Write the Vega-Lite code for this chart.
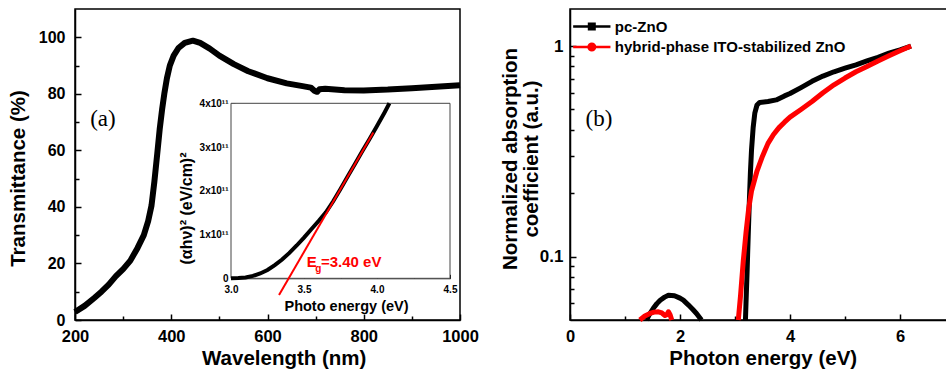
{
  "$schema": "https://vega.github.io/schema/vega-lite/v6.json",
  "width": 946,
  "height": 372,
  "autosize": {"type": "none"},
  "padding": 0,
  "background": "white",
  "config": {
    "view": {"stroke": null},
    "axis": {
      "grid": false,
      "labelFont": "Liberation Sans",
      "labelFontWeight": "bold",
      "labelColor": "black",
      "titleFont": "Liberation Sans",
      "titleFontWeight": "bold",
      "titleColor": "black",
      "domainColor": "black",
      "tickColor": "black",
      "domainWidth": 1.5,
      "tickWidth": 1.5,
      "labelFlush": false,
      "labelOverlap": false
    },
    "legend": {"labelFont": "Liberation Sans", "labelFontWeight": "bold", "labelColor": "black"}
  },
  "resolve": {
    "scale": {"x": "independent", "y": "independent", "color": "independent"},
    "axis": {"x": "independent", "y": "independent"}
  },
  "layer": [
    {
      "data": {"values": [{"x1": 200, "x2": 1000, "y1": 0, "y2": 110}]},
      "mark": {"type": "rect", "filled": false, "color": "black", "strokeWidth": 1.5},
      "encoding": {
        "x": {"field": "x1", "type": "quantitative", "scale": {"domain": [200, 1000], "range": [75, 460], "nice": false, "zero": false},
          "axis": {"orient": "bottom", "offset": -52, "values": [300, 500, 700, 900], "labels": false, "domain": false, "tickSize": -4, "title": null}},
        "x2": {"field": "x2"},
        "y": {"field": "y1", "type": "quantitative", "scale": {"domain": [0, 110], "range": [320, 9], "nice": false, "zero": false},
          "axis": {"orient": "left", "offset": -75, "values": [10, 30, 50, 70, 90], "labels": false, "domain": false, "tickSize": -4, "title": null}},
        "y2": {"field": "y2"}
      }
    },
    {
      "data": {"values": [
        {"wl": 200, "T": 2.8}, {"wl": 220, "T": 5}, {"wl": 240, "T": 7.8}, {"wl": 255, "T": 10}, {"wl": 270, "T": 12.5},
        {"wl": 285, "T": 15.5}, {"wl": 300, "T": 18}, {"wl": 315, "T": 21}, {"wl": 330, "T": 25.5}, {"wl": 343, "T": 30},
        {"wl": 352, "T": 35}, {"wl": 359, "T": 40.5}, {"wl": 365, "T": 49}, {"wl": 371, "T": 59}, {"wl": 376, "T": 67.5},
        {"wl": 381, "T": 74.5}, {"wl": 386, "T": 80.5}, {"wl": 391, "T": 85.5}, {"wl": 397, "T": 90}, {"wl": 405, "T": 93.5},
        {"wl": 415, "T": 96.2}, {"wl": 428, "T": 98}, {"wl": 445, "T": 98.8}, {"wl": 460, "T": 98}, {"wl": 480, "T": 96},
        {"wl": 500, "T": 93.5}, {"wl": 530, "T": 90.5}, {"wl": 560, "T": 88}, {"wl": 600, "T": 85.5}, {"wl": 640, "T": 83.7},
        {"wl": 670, "T": 82.8}, {"wl": 690, "T": 82.2}, {"wl": 698, "T": 81}, {"wl": 703, "T": 80.7}, {"wl": 708, "T": 81.6},
        {"wl": 720, "T": 81.8}, {"wl": 760, "T": 81.3}, {"wl": 800, "T": 81.2}, {"wl": 850, "T": 81.5}, {"wl": 900, "T": 82},
        {"wl": 950, "T": 82.5}, {"wl": 1000, "T": 83}
      ]},
      "mark": {"type": "line", "color": "black", "strokeWidth": 6, "strokeCap": "butt", "strokeJoin": "round"},
      "encoding": {
        "x": {"field": "wl", "type": "quantitative", "scale": {"domain": [200, 1000], "range": [75, 460], "nice": false, "zero": false},
          "axis": {"orient": "bottom", "offset": -52, "values": [200, 400, 600, 800, 1000], "format": "d", "tickSize": -6, "labelPadding": 14, "labelFontSize": 16.5,
            "title": "Wavelength (nm)", "titleFontSize": 20.5, "titleX": 283.7, "titleY": 38, "titleAlign": "center", "titleBaseline": "middle"}},
        "y": {"field": "T", "type": "quantitative", "scale": {"domain": [0, 110], "range": [320, 9], "nice": false, "zero": false},
          "axis": {"orient": "left", "offset": -75, "values": [0, 20, 40, 60, 80, 100], "tickSize": -6, "labelPadding": 16, "labelFontSize": 16,
            "title": "Transmittance (%)", "titleFontSize": 20.5, "titleX": -56.5, "titleY": 178, "titleAngle": -90, "titleAlign": "center", "titleBaseline": "middle"}}
      }
    },
    {
      "data": {"values": [{"wl": 258, "T": 71, "label": "(a)"}]},
      "mark": {"type": "text", "font": "Liberation Serif", "fontSize": 23, "align": "center", "baseline": "middle", "color": "black"},
      "encoding": {
        "x": {"field": "wl", "type": "quantitative", "scale": {"domain": [200, 1000], "range": [75, 460], "nice": false, "zero": false}, "axis": null},
        "y": {"field": "T", "type": "quantitative", "scale": {"domain": [0, 110], "range": [320, 9], "nice": false, "zero": false}, "axis": null},
        "text": {"field": "label"}
      }
    },
    {
      "data": {"values": [{"x1": 3.0, "x2": 4.5, "y1": 0, "y2": 4e11}]},
      "mark": {"type": "rect", "fill": "white", "stroke": "#444444", "strokeWidth": 1},
      "encoding": {
        "x": {"field": "x1", "type": "quantitative", "scale": {"domain": [3.0, 4.5], "range": [231, 450], "nice": false, "zero": false},
          "axis": {"orient": "bottom", "offset": -93.7, "values": [3.25, 3.75, 4.25], "labels": false, "domain": false, "tickSize": -3, "tickWidth": 1, "title": null}},
        "x2": {"field": "x2"},
        "y": {"field": "y1", "type": "quantitative", "scale": {"domain": [0, 4e11], "range": [278.3, 103.3], "nice": false, "zero": false},
          "axis": {"orient": "left", "offset": -231, "values": [5e10, 1.5e11, 2.5e11, 3.5e11], "labels": false, "domain": false, "tickSize": -3, "tickWidth": 1, "title": null}},
        "y2": {"field": "y2"}
      }
    },
    {
      "data": {"values": [
        {"E": 3.0, "v": 0}, {"E": 3.05, "v": 5e8}, {"E": 3.1, "v": 2e9}, {"E": 3.15, "v": 5.5e9}, {"E": 3.2, "v": 1.1e10},
        {"E": 3.25, "v": 1.9e10}, {"E": 3.3, "v": 3.0e10}, {"E": 3.35, "v": 4.3e10}, {"E": 3.4, "v": 5.8e10}, {"E": 3.45, "v": 7.5e10},
        {"E": 3.5, "v": 9.3e10}, {"E": 3.55, "v": 1.12e11}, {"E": 3.6, "v": 1.31e11}, {"E": 3.65, "v": 1.51e11}, {"E": 3.7, "v": 1.76e11},
        {"E": 3.75, "v": 2.04e11}, {"E": 3.8, "v": 2.33e11}, {"E": 3.85, "v": 2.62e11}, {"E": 3.9, "v": 2.91e11}, {"E": 3.95, "v": 3.19e11},
        {"E": 4.0, "v": 3.48e11}, {"E": 4.05, "v": 3.78e11}, {"E": 4.085, "v": 4.0e11}
      ]},
      "mark": {"type": "line", "color": "black", "strokeWidth": 4, "strokeCap": "butt"},
      "encoding": {
        "x": {"field": "E", "type": "quantitative", "scale": {"domain": [3.0, 4.5], "range": [231, 450], "nice": false, "zero": false},
          "axis": {"orient": "bottom", "offset": -93.7, "values": [3.0, 3.5, 4.0, 4.5], "format": ".1f", "tickSize": -4, "tickWidth": 1, "domainWidth": 1, "domainColor": "#333333",
            "labelPadding": 10, "labelFontSize": 10, "title": "Photo energy (eV)", "titleFontSize": 14.5, "titleX": 346, "titleY": 28.5, "titleAlign": "center", "titleBaseline": "middle"}},
        "y": {"field": "v", "type": "quantitative", "scale": {"domain": [0, 4e11], "range": [278.3, 103.3], "nice": false, "zero": false},
          "axis": {"orient": "left", "offset": -231, "values": [0, 1e11, 2e11, 3e11, 4e11], "labelExpr": "datum.value == 0 ? '0' : format(datum.value / 1e11, 'd') + 'x10¹¹'",
            "tickSize": -4, "tickWidth": 1, "domainWidth": 1, "domainColor": "#333333", "labelPadding": 7, "labelFontSize": 10, "labelBaseline": "middle",
            "title": "(αhν)² (eV/cm)²", "titleFontSize": 16, "titleX": -45, "titleY": 208, "titleAngle": -90, "titleAlign": "center", "titleBaseline": "middle"}}
      }
    },
    {
      "data": {"values": [{"E": 3.329, "v": -3.8e10}, {"E": 3.975, "v": 3.33e11}]},
      "mark": {"type": "line", "color": "#ff0000", "strokeWidth": 2},
      "encoding": {
        "x": {"field": "E", "type": "quantitative", "scale": {"domain": [3.0, 4.5], "range": [231, 450], "nice": false, "zero": false}, "axis": null},
        "y": {"field": "v", "type": "quantitative", "scale": {"domain": [0, 4e11], "range": [278.3, 103.3], "nice": false, "zero": false}, "axis": null}
      }
    },
    {
      "data": {"values": [{"E": 3.518, "v": 2.5e10, "label": "E"}, {"E": 3.616, "v": 2.5e10, "label": "=3.40 eV"}]},
      "mark": {"type": "text", "font": "Liberation Sans", "fontWeight": "bold", "fontSize": 15, "align": "left", "baseline": "alphabetic", "color": "#ff0000"},
      "encoding": {
        "x": {"field": "E", "type": "quantitative", "scale": {"domain": [3.0, 4.5], "range": [231, 450], "nice": false, "zero": false}, "axis": null},
        "y": {"field": "v", "type": "quantitative", "scale": {"domain": [0, 4e11], "range": [278.3, 103.3], "nice": false, "zero": false}, "axis": null},
        "text": {"field": "label"}
      }
    },
    {
      "data": {"values": [{"E": 3.577, "v": 1.4e10, "label": "g"}]},
      "mark": {"type": "text", "font": "Liberation Sans", "fontWeight": "bold", "fontSize": 10, "align": "left", "baseline": "alphabetic", "color": "#ff0000"},
      "encoding": {
        "x": {"field": "E", "type": "quantitative", "scale": {"domain": [3.0, 4.5], "range": [231, 450], "nice": false, "zero": false}, "axis": null},
        "y": {"field": "v", "type": "quantitative", "scale": {"domain": [0, 4e11], "range": [278.3, 103.3], "nice": false, "zero": false}, "axis": null},
        "text": {"field": "label"}
      }
    },
    {
      "data": {"values": [{"x1": 0, "x2": 6.9, "y1": 0.05, "y2": 1.5}]},
      "mark": {"type": "rect", "filled": false, "color": "black", "strokeWidth": 1.5},
      "encoding": {
        "x": {"field": "x1", "type": "quantitative", "scale": {"domain": [0, 6.9], "range": [570, 949.5], "nice": false, "zero": false},
          "axis": {"orient": "bottom", "offset": -52, "values": [1, 3, 5], "labels": false, "domain": false, "tickSize": -4, "title": null}},
        "x2": {"field": "x2"},
        "y": {"field": "y1", "type": "quantitative", "scale": {"type": "log", "domain": [0.05, 1.5], "range": [320, 9], "nice": false},
          "axis": {"orient": "left", "offset": -570, "values": [0.06, 0.07, 0.08, 0.09, 0.2, 0.3, 0.4, 0.5, 0.6, 0.7, 0.8, 0.9], "labels": false, "domain": false, "tickSize": -4, "title": null}},
        "y2": {"field": "y2"}
      }
    },
    {
      "data": {"values": [
        {"E": 1.39, "a": 0.05, "s": "pc-ZnO", "part": "A"}, {"E": 1.45, "a": 0.0535, "s": "pc-ZnO", "part": "A"},
        {"E": 1.515, "a": 0.0568, "s": "pc-ZnO", "part": "A"}, {"E": 1.58, "a": 0.0598, "s": "pc-ZnO", "part": "A"},
        {"E": 1.64, "a": 0.0621, "s": "pc-ZnO", "part": "A"}, {"E": 1.72, "a": 0.0642, "s": "pc-ZnO", "part": "A"},
        {"E": 1.79, "a": 0.0656, "s": "pc-ZnO", "part": "A"}, {"E": 1.9, "a": 0.0652, "s": "pc-ZnO", "part": "A"},
        {"E": 2.0, "a": 0.0635, "s": "pc-ZnO", "part": "A"}, {"E": 2.06, "a": 0.0621, "s": "pc-ZnO", "part": "A"},
        {"E": 2.15, "a": 0.059, "s": "pc-ZnO", "part": "A"}, {"E": 2.23, "a": 0.0562, "s": "pc-ZnO", "part": "A"},
        {"E": 2.3, "a": 0.0537, "s": "pc-ZnO", "part": "A"}, {"E": 2.39, "a": 0.05, "s": "pc-ZnO", "part": "A"},
        {"E": 3.19, "a": 0.05, "s": "pc-ZnO", "part": "B"}, {"E": 3.2, "a": 0.06, "s": "pc-ZnO", "part": "B"},
        {"E": 3.22, "a": 0.085, "s": "pc-ZnO", "part": "B"}, {"E": 3.24, "a": 0.125, "s": "pc-ZnO", "part": "B"},
        {"E": 3.26, "a": 0.18, "s": "pc-ZnO", "part": "B"}, {"E": 3.28, "a": 0.25, "s": "pc-ZnO", "part": "B"},
        {"E": 3.3, "a": 0.32, "s": "pc-ZnO", "part": "B"}, {"E": 3.33, "a": 0.41, "s": "pc-ZnO", "part": "B"},
        {"E": 3.36, "a": 0.48, "s": "pc-ZnO", "part": "B"}, {"E": 3.4, "a": 0.525, "s": "pc-ZnO", "part": "B"},
        {"E": 3.45, "a": 0.54, "s": "pc-ZnO", "part": "B"}, {"E": 3.6, "a": 0.545, "s": "pc-ZnO", "part": "B"},
        {"E": 3.75, "a": 0.555, "s": "pc-ZnO", "part": "B"}, {"E": 3.9, "a": 0.58, "s": "pc-ZnO", "part": "B"},
        {"E": 4.0, "a": 0.595, "s": "pc-ZnO", "part": "B"}, {"E": 4.2, "a": 0.635, "s": "pc-ZnO", "part": "B"},
        {"E": 4.4, "a": 0.68, "s": "pc-ZnO", "part": "B"}, {"E": 4.6, "a": 0.72, "s": "pc-ZnO", "part": "B"},
        {"E": 4.8, "a": 0.755, "s": "pc-ZnO", "part": "B"}, {"E": 5.0, "a": 0.785, "s": "pc-ZnO", "part": "B"},
        {"E": 5.2, "a": 0.815, "s": "pc-ZnO", "part": "B"}, {"E": 5.4, "a": 0.85, "s": "pc-ZnO", "part": "B"},
        {"E": 5.6, "a": 0.885, "s": "pc-ZnO", "part": "B"}, {"E": 5.8, "a": 0.925, "s": "pc-ZnO", "part": "B"},
        {"E": 6.0, "a": 0.96, "s": "pc-ZnO", "part": "B"}, {"E": 6.2, "a": 1.0, "s": "pc-ZnO", "part": "B"},
        {"E": 1.27, "a": 0.05, "s": "hybrid-phase ITO-stabilized ZnO", "part": "A"}, {"E": 1.36, "a": 0.0522, "s": "hybrid-phase ITO-stabilized ZnO", "part": "A"},
        {"E": 1.455, "a": 0.0537, "s": "hybrid-phase ITO-stabilized ZnO", "part": "A"}, {"E": 1.53, "a": 0.0545, "s": "hybrid-phase ITO-stabilized ZnO", "part": "A"},
        {"E": 1.606, "a": 0.0547, "s": "hybrid-phase ITO-stabilized ZnO", "part": "A"}, {"E": 1.67, "a": 0.054, "s": "hybrid-phase ITO-stabilized ZnO", "part": "A"},
        {"E": 1.727, "a": 0.0525, "s": "hybrid-phase ITO-stabilized ZnO", "part": "A"}, {"E": 1.76, "a": 0.053, "s": "hybrid-phase ITO-stabilized ZnO", "part": "A"},
        {"E": 1.79, "a": 0.0547, "s": "hybrid-phase ITO-stabilized ZnO", "part": "A"}, {"E": 1.82, "a": 0.053, "s": "hybrid-phase ITO-stabilized ZnO", "part": "A"},
        {"E": 1.85, "a": 0.05, "s": "hybrid-phase ITO-stabilized ZnO", "part": "A"},
        {"E": 3.06, "a": 0.05, "s": "hybrid-phase ITO-stabilized ZnO", "part": "B"}, {"E": 3.1, "a": 0.065, "s": "hybrid-phase ITO-stabilized ZnO", "part": "B"},
        {"E": 3.15, "a": 0.095, "s": "hybrid-phase ITO-stabilized ZnO", "part": "B"}, {"E": 3.2, "a": 0.13, "s": "hybrid-phase ITO-stabilized ZnO", "part": "B"},
        {"E": 3.25, "a": 0.17, "s": "hybrid-phase ITO-stabilized ZnO", "part": "B"}, {"E": 3.3, "a": 0.205, "s": "hybrid-phase ITO-stabilized ZnO", "part": "B"},
        {"E": 3.4, "a": 0.255, "s": "hybrid-phase ITO-stabilized ZnO", "part": "B"}, {"E": 3.5, "a": 0.3, "s": "hybrid-phase ITO-stabilized ZnO", "part": "B"},
        {"E": 3.6, "a": 0.345, "s": "hybrid-phase ITO-stabilized ZnO", "part": "B"}, {"E": 3.7, "a": 0.38, "s": "hybrid-phase ITO-stabilized ZnO", "part": "B"},
        {"E": 3.8, "a": 0.41, "s": "hybrid-phase ITO-stabilized ZnO", "part": "B"}, {"E": 3.9, "a": 0.435, "s": "hybrid-phase ITO-stabilized ZnO", "part": "B"},
        {"E": 4.0, "a": 0.46, "s": "hybrid-phase ITO-stabilized ZnO", "part": "B"}, {"E": 4.2, "a": 0.5, "s": "hybrid-phase ITO-stabilized ZnO", "part": "B"},
        {"E": 4.4, "a": 0.545, "s": "hybrid-phase ITO-stabilized ZnO", "part": "B"}, {"E": 4.6, "a": 0.6, "s": "hybrid-phase ITO-stabilized ZnO", "part": "B"},
        {"E": 4.8, "a": 0.655, "s": "hybrid-phase ITO-stabilized ZnO", "part": "B"}, {"E": 5.0, "a": 0.705, "s": "hybrid-phase ITO-stabilized ZnO", "part": "B"},
        {"E": 5.2, "a": 0.755, "s": "hybrid-phase ITO-stabilized ZnO", "part": "B"}, {"E": 5.4, "a": 0.8, "s": "hybrid-phase ITO-stabilized ZnO", "part": "B"},
        {"E": 5.6, "a": 0.85, "s": "hybrid-phase ITO-stabilized ZnO", "part": "B"}, {"E": 5.8, "a": 0.9, "s": "hybrid-phase ITO-stabilized ZnO", "part": "B"},
        {"E": 6.0, "a": 0.95, "s": "hybrid-phase ITO-stabilized ZnO", "part": "B"}, {"E": 6.2, "a": 1.0, "s": "hybrid-phase ITO-stabilized ZnO", "part": "B"}
      ]},
      "mark": {"type": "line", "strokeWidth": 5, "strokeCap": "butt", "strokeJoin": "round"},
      "encoding": {
        "x": {"field": "E", "type": "quantitative", "scale": {"domain": [0, 6.9], "range": [570, 949.5], "nice": false, "zero": false},
          "axis": {"orient": "bottom", "offset": -52, "values": [0, 2, 4, 6], "tickSize": -6, "labelPadding": 14, "labelFontSize": 16.5,
            "title": "Photon energy (eV)", "titleFontSize": 20.5, "titleX": 762.7, "titleY": 38, "titleAlign": "center", "titleBaseline": "middle"}},
        "y": {"field": "a", "type": "quantitative", "scale": {"type": "log", "domain": [0.05, 1.5], "range": [320, 9], "nice": false},
          "axis": {"orient": "left", "offset": -570, "values": [0.1, 1], "format": "~g", "tickSize": -6, "labelPadding": 13, "labelFontSize": 17,
            "title": ["Normalized absorption", "coefficient (a.u.)"], "titleFontSize": 20.5, "titleLineHeight": 21, "titleX": -60, "titleY": 158.5,
            "titleAngle": -90, "titleAlign": "center", "titleBaseline": "middle"}},
        "color": {"field": "s", "type": "nominal",
          "scale": {"domain": ["pc-ZnO", "hybrid-phase ITO-stabilized ZnO"], "range": ["black", "#ff0000"]},
          "legend": {"orient": "none", "legendX": 584.3, "legendY": 19, "title": null, "padding": 0, "labelFontSize": 15, "labelOffset": 15.5, "labelLimit": 500,
            "rowPadding": 3.5, "symbolSize": 100, "symbolStrokeWidth": 2.5,
            "encode": {"symbols": {"update": {
              "shape": {"signal": "datum.label === 'pc-ZnO' ? 'M-3.73,0H3.73M-0.55,-0.55H0.55V0.55H-0.55Z' : 'M-3.73,0H3.73M0.65,0A0.65,0.65,0,1,1,-0.65,0A0.65,0.65,0,1,1,0.65,0Z'"},
              "fill": {"signal": "datum.label === 'pc-ZnO' ? 'black' : '#ff0000'"},
              "stroke": {"signal": "datum.label === 'pc-ZnO' ? 'black' : '#ff0000'"},
              "strokeWidth": {"value": 2.5},
              "opacity": {"value": 1}
            }}}}},
        "detail": {"field": "part"},
        "order": {"field": "E", "type": "quantitative"}
      }
    },
    {
      "data": {"values": [{"E": 0.527, "a": 0.45, "label": "(b)"}]},
      "mark": {"type": "text", "font": "Liberation Serif", "fontSize": 23, "align": "center", "baseline": "middle", "color": "black"},
      "encoding": {
        "x": {"field": "E", "type": "quantitative", "scale": {"domain": [0, 6.9], "range": [570, 949.5], "nice": false, "zero": false}, "axis": null},
        "y": {"field": "a", "type": "quantitative", "scale": {"type": "log", "domain": [0.05, 1.5], "range": [320, 9], "nice": false}, "axis": null},
        "text": {"field": "label"}
      }
    }
  ]
}
